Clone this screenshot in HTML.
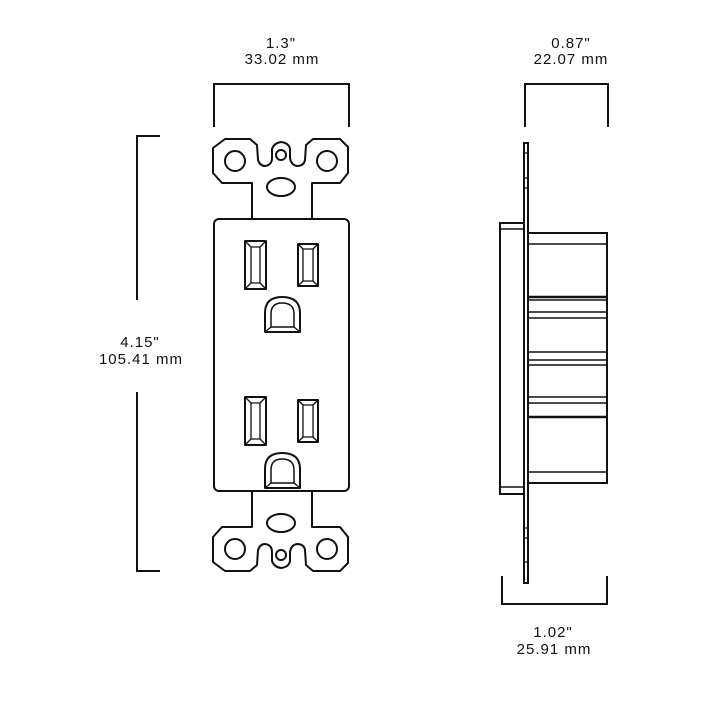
<!DOCTYPE html>
<html><head><meta charset="utf-8"><style>
html,body{margin:0;padding:0;background:#fff;}
svg{display:block;}
text{font-family:"Liberation Sans",sans-serif;font-size:15px;fill:#111;text-anchor:middle;letter-spacing:1px;}
</style></head><body>
<svg width="710" height="710" viewBox="0 0 710 710" xmlns="http://www.w3.org/2000/svg">
<defs>
<g id="strap" fill="none" stroke="#111" stroke-width="2" stroke-linejoin="round">
<path d="M252,219 L252,183 L222,183 L213,173 L213,148 L225,139 L250,139 L257,145 L258,160 Q260,166 265,166 Q272,165 272,158 L272,149 Q274,143 281,142 Q289,143 290,149 L290,158 Q291,165 297,166 Q304,166 305,160 L306,145 L313,139 L340,139 L348,147 L348,173 L340,183 L312,183 L312,219"/>
<circle cx="235" cy="161" r="10"/>
<circle cx="327" cy="161" r="10"/>
<circle cx="281" cy="155" r="5"/>
<ellipse cx="281" cy="187" rx="14" ry="9"/>
</g>
<g id="outlet" fill="none" stroke="#111" stroke-width="2" stroke-linejoin="round">
<rect x="245" y="241" width="21" height="48"/>
<rect x="251" y="247" width="9" height="36" stroke-width="1.3"/>
<path d="M245,241 L251,247 M266,241 L260,247 M245,289 L251,283 M266,289 L260,283" stroke-width="1.3"/>
<rect x="298" y="244" width="20" height="42"/>
<rect x="303" y="249" width="10" height="32" stroke-width="1.3"/>
<path d="M298,244 L303,249 M318,244 L313,249 M298,286 L303,281 M318,286 L313,281" stroke-width="1.3"/>
<path d="M265,332 L265,313 Q265,297 282,297 Q300,297 300,313 L300,332 Z"/>
<path d="M271,327 L271,314 Q271,303 282,303 Q294,303 294,314 L294,327 Z" stroke-width="1.5"/>
<path d="M265,332 L271,327 M300,332 L294,327" stroke-width="1.3"/>
</g>
</defs>

<g fill="none" stroke="#111" stroke-width="2">
<path d="M214,127 L214,84 L349,84 L349,127"/>
<path d="M525,127 L525,84 L608,84 L608,127"/>
<path d="M502,576 L502,604 L607,604 L607,576"/>
<path d="M160,136 L137,136 L137,300 M137,392 L137,571 L160,571"/>
</g>
<text x="281" y="48">1.3"</text>
<text x="282" y="64">33.02 mm</text>
<text x="571" y="48">0.87"</text>
<text x="571" y="64">22.07 mm</text>
<text x="140" y="347">4.15"</text>
<text x="141" y="364">105.41 mm</text>
<text x="553" y="637">1.02"</text>
<text x="554" y="654">25.91 mm</text>

<use href="#strap"/>
<use href="#strap" transform="translate(0,710) scale(1,-1)"/>
<rect x="214" y="219" width="135" height="272" rx="5" fill="none" stroke="#111" stroke-width="2"/>
<use href="#outlet"/>
<use href="#outlet" transform="translate(0,156)"/>

<g fill="none" stroke="#111" stroke-width="2">
<rect x="524" y="143" width="4" height="440"/>
<path d="M524,153 L528,153 M524,178 L528,178 M524,188 L528,188 M524,528 L528,528 M524,538 L528,538 M524,562 L528,562" stroke-width="1.3"/>
<rect x="500" y="223" width="24" height="271"/>
<path d="M500,229 L524,229 M500,487 L524,487" stroke-width="1.5"/>
<rect x="528" y="233" width="79" height="250"/>
<path d="M528,244 L607,244 M528,472 L607,472" stroke-width="1.5"/>
<path d="M528,297 L607,297 M528,417 L607,417" stroke-width="2.5"/>
<path d="M528,300 L607,300 M528,312 L607,312 M528,318 L607,318 M528,352 L607,352 M528,360 L607,360 M528,365 L607,365 M528,397 L607,397 M528,403 L607,403" stroke-width="1.5"/>
</g>
</svg>
</body></html>
